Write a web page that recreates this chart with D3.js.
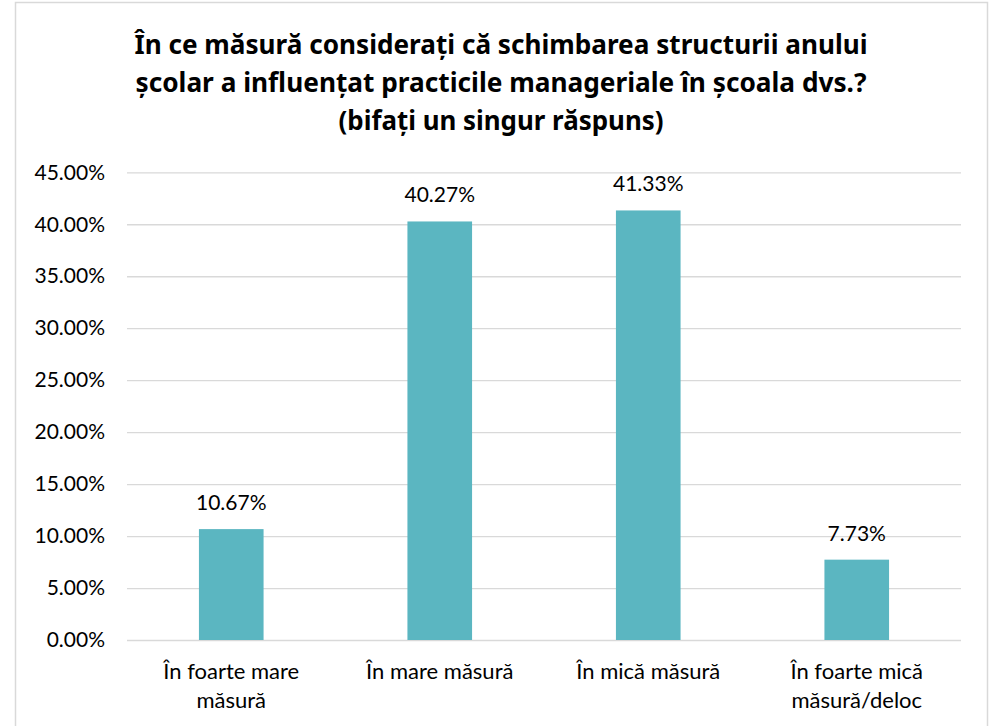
<!DOCTYPE html>
<html>
<head>
<meta charset="utf-8">
<script src="https://cdn.jsdelivr.net/npm/d3@7"></script>
<style>
  html, body { margin: 0; padding: 0; background: #fff; }
  svg { display: block; }
</style>
</head>
<body>
<svg id="chart" width="993" height="726"></svg>
<script>
// Survey responses: share of respondents per answer
const categories = [
  ["În foarte mare", "măsură"],
  ["În mare măsură"],
  ["În mică măsură"],
  ["În foarte mică", "măsură/deloc"]
];
const values = [10.67, 40.27, 41.33, 7.73];
const yTicks = [0, 5, 10, 15, 20, 25, 30, 35, 40, 45];
const titleLines = [
  "În ce măsură considerați că schimbarea structurii anului",
  "școlar a influențat practicile manageriale în școala dvs.?",
  "(bifați un singur răspuns)"
];
// rendered width of each title line
const titleWidths = [733, 731, 325];

const svg = d3.select("#chart");
const labelFont = "Lato, 'Open Sans', 'Noto Sans', sans-serif";
const titleFont = "'Noto Sans', 'Open Sans', sans-serif";

// chart frame
svg.append("rect")
  .attr("x", 15.5).attr("y", 2.5)
  .attr("width", 972).attr("height", 730)
  .attr("fill", "#fff").attr("stroke", "#D9D9D9").attr("stroke-width", 1.5);

// title
svg.append("g").selectAll("text").data(titleLines).join("text")
  .attr("x", 501).attr("y", (d, i) => 54 + i * 38)
  .attr("text-anchor", "middle")
  .attr("font-family", titleFont)
  .attr("font-weight", "bold")
  .attr("font-size", 27)
  .attr("fill", "#000")
  .attr("textLength", (d, i) => titleWidths[i])
  .attr("lengthAdjust", "spacingAndGlyphs")
  .text(d => d);

const plot = { left: 127, right: 961, top: 172.3, bottom: 640 };

const x = d3.scaleBand()
  .domain(d3.range(categories.length))
  .range([plot.left, plot.right])
  .paddingInner(0.69).paddingOuter(0.345);

const y = d3.scaleLinear().domain([0, 45]).range([plot.bottom, plot.top]);

// gridlines + y tick labels
const yAxis = d3.axisLeft(y)
  .tickValues(yTicks)
  .tickSize(-(plot.right - plot.left))
  .tickPadding(22)
  .tickFormat(d => d.toFixed(2) + "%");

const gy = svg.append("g")
  .attr("transform", `translate(${plot.left},0)`)
  .call(yAxis);
gy.select(".domain").remove();
gy.selectAll(".tick line").attr("stroke", "#D9D9D9").attr("stroke-width", 1.3);
gy.selectAll(".tick text")
  .attr("font-family", labelFont)
  .attr("font-size", 21)
  .attr("fill", "#000");

// bars
svg.append("g").selectAll("rect").data(values).join("rect")
  .attr("x", (d, i) => x(i))
  .attr("width", x.bandwidth())
  .attr("y", d => y(d))
  .attr("height", d => y(0) - y(d))
  .attr("fill", "#5BB6C1");

// value labels
svg.append("g").selectAll("text").data(values).join("text")
  .attr("x", (d, i) => x(i) + x.bandwidth() / 2)
  .attr("y", d => y(d) - 19)
  .attr("text-anchor", "middle")
  .attr("font-family", labelFont)
  .attr("font-size", 21)
  .attr("fill", "#000")
  .text(d => d.toFixed(2) + "%");

// category labels
const cat = svg.append("g").selectAll("text").data(categories).join("text")
  .attr("x", (d, i) => x(i) + x.bandwidth() / 2)
  .attr("y", 679)
  .attr("text-anchor", "middle")
  .attr("font-family", labelFont)
  .attr("font-size", 22)
  .attr("fill", "#000");
cat.selectAll("tspan").data(d => d).join("tspan")
  .attr("x", function () { return d3.select(this.parentNode).attr("x"); })
  .attr("dy", (d, i) => i === 0 ? 0 : 29)
  .text(d => d);
</script>
</body>
</html>
